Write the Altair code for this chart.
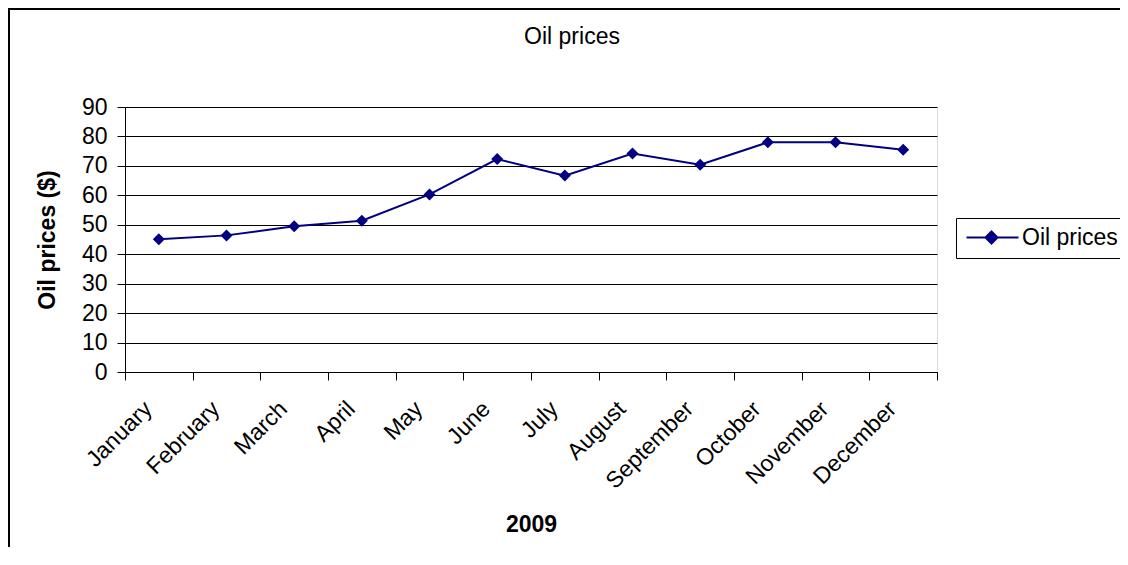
import altair as alt
import pandas as pd

months = ["January", "February", "March", "April", "May", "June", "July",
          "August", "September", "October", "November", "December"]
prices = [45.1, 46.4, 49.5, 51.4, 60.3, 72.3, 66.7, 74.2, 70.4, 78.0, 78.0, 75.5]
series = ["Oil prices"] * len(months)
y_ticks = [0, 10, 20, 30, 40, 50, 60, 70, 80, 90]

df = pd.DataFrame({"month": months, "price": prices, "series": series})

FONT = "Liberation Sans"
NAVY = "#000080"

W, H = 812, 265

x_enc = alt.X("month:N", sort=months,
              scale=alt.Scale(type="band", domain=months, paddingInner=0, paddingOuter=0),
              axis=alt.Axis(title="2009", titleFontWeight="bold", titleFontSize=23,
                            titleFont=FONT, titleColor="black", titleY=159,
                            titleBaseline="alphabetic",
                            labelAngle=-45, labelAlign="right", labelBaseline="middle",
                            labelFontSize=23, labelFont=FONT, labelColor="black",
                            labelPadding=25, labelOffset=-11, labelOverlap=False,
                            labelBound=False, labelFlush=False,
                            tickBand="extent", tickSize=8, tickColor="black",
                            domainColor="black", grid=False))
y_enc = alt.Y("price:Q",
              scale=alt.Scale(domain=[0, 90], nice=False, zero=True),
              axis=alt.Axis(title="Oil prices ($)", titleFontWeight="bold", titleFontSize=23,
                            titleFont=FONT, titleColor="black", titleAngle=-90,
                            titleX=-71, titleY=H / 2, titleBaseline="alphabetic",
                            titleAlign="center",
                            values=y_ticks, labelFontSize=23, labelFont=FONT,
                            labelColor="black", labelPadding=10,
                            tickSize=8, tickColor="black", domainColor="black",
                            grid=True, gridColor="black", gridWidth=1))

color_enc = alt.Color("series:N",
                      scale=alt.Scale(domain=["Oil prices"], range=[NAVY]),
                      legend=alt.Legend(title=None, orient="none", legendX=831, legendY=111,
                                        strokeColor="black", padding=8,
                                        symbolType="M-0.9,0H4.3M1.6,-0.6L2.2,0L1.6,0.6L1,0Z",
                                        symbolSize=400, symbolStrokeWidth=2,
                                        symbolFillColor=NAVY, symbolStrokeColor=NAVY,
                                        labelFontSize=23, labelFont=FONT, labelColor="black",
                                        labelOffset=35, fillColor="white"))

frame = alt.Chart(df).mark_rect(fill=None, stroke="black", strokeWidth=2, clip=False).encode(
    x=alt.value(-116), x2=alt.value(1200), y=alt.value(-98), y2=alt.value(700)
)

line = alt.Chart(df).mark_line(strokeWidth=2).encode(x=x_enc, y=y_enc, color=color_enc)
points = alt.Chart(df).mark_point(shape="diamond", filled=True, size=144, opacity=1,
                                  color=NAVY).encode(x=x_enc, y=y_enc)

chart = alt.layer(frame, line, points).properties(
    width=W, height=H,
    title=alt.TitleParams("Oil prices", font=FONT, fontSize=23, fontWeight="normal",
                          color="black", anchor="middle", frame="group", dx=41, offset=-59,
                          baseline="alphabetic"),
    autosize=alt.AutoSizeParams(type="none"),
    padding={"left": 117, "top": 99, "right": 183, "bottom": 175},
).configure_view(fill="#C0C0C0", stroke="#808080", strokeWidth=1
).configure(background="white")

chart.save("out.html", embed_options={"renderer": "svg", "actions": False})
